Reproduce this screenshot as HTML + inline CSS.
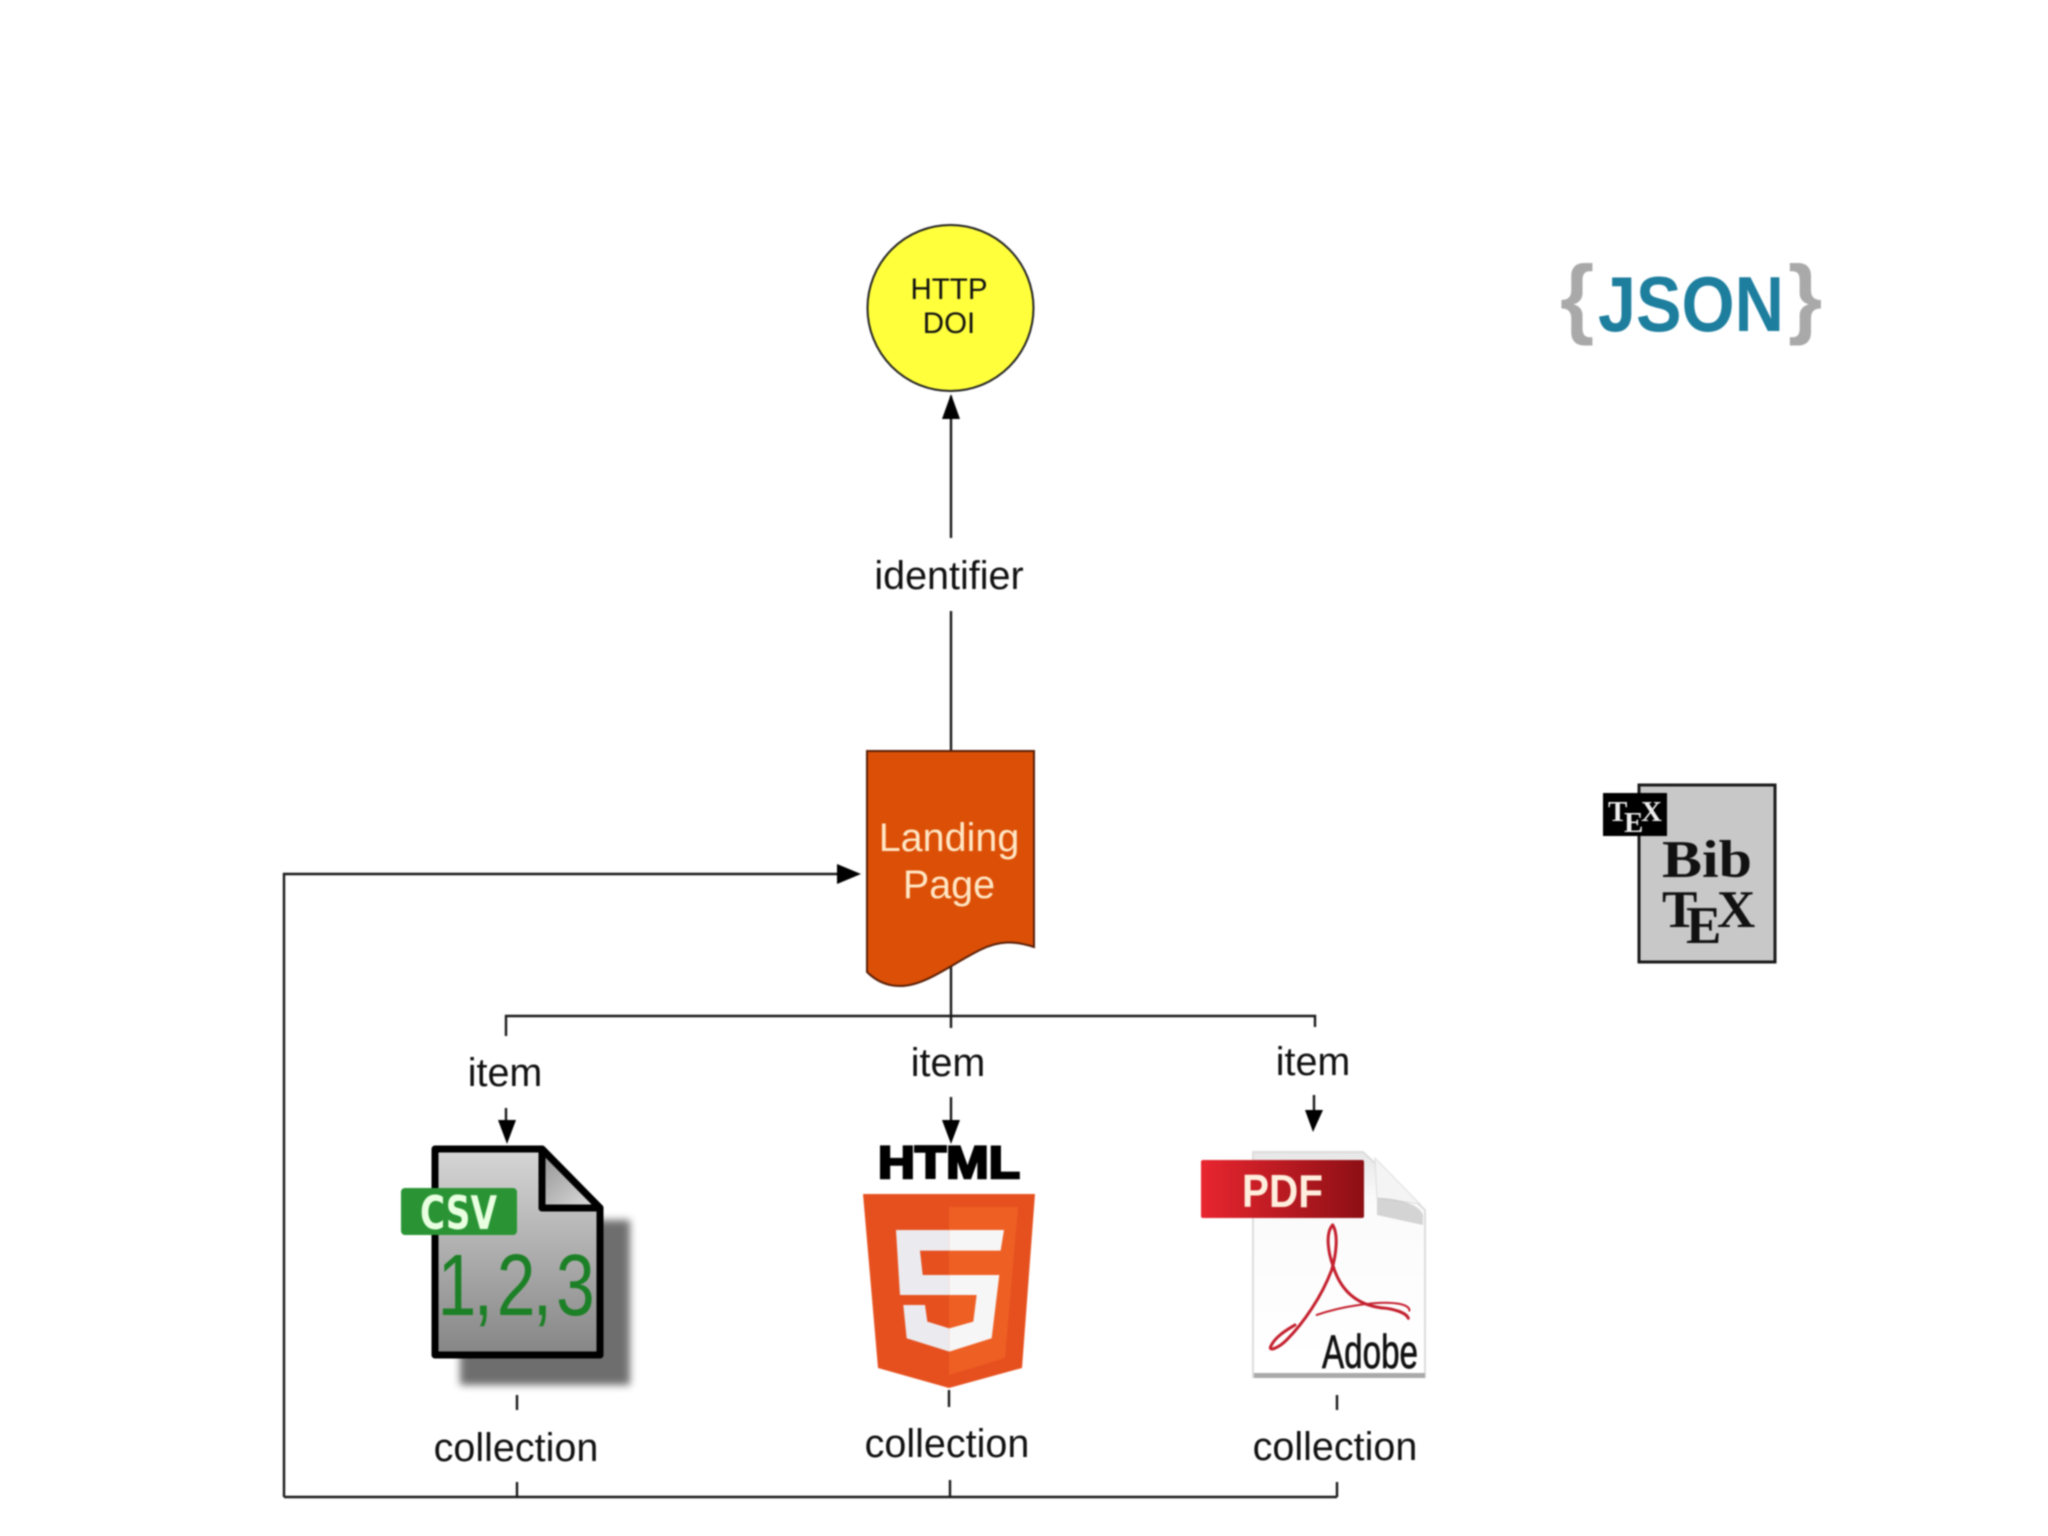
<!DOCTYPE html>
<html><head><meta charset="utf-8"><style>
html,body{margin:0;padding:0;background:#fff;width:2048px;height:1536px;overflow:hidden}
svg{display:block;filter:blur(.9px)}
text{font-family:"Liberation Sans",sans-serif}
.l{font-size:39.5px;fill:#111;text-anchor:middle}
.s{font-family:"Liberation Serif",serif;font-weight:bold}
</style></head><body>
<svg width="2048" height="1536" viewBox="0 0 2048 1536" xmlns="http://www.w3.org/2000/svg">
<defs>
<linearGradient id="cg" x1="0" y1="0" x2="0" y2="1"><stop offset="0" stop-color="#d6d6d6"/><stop offset="1" stop-color="#858585"/></linearGradient>
<linearGradient id="fg" x1="0" y1="0" x2="1" y2="1"><stop offset="0" stop-color="#8f8f8f"/><stop offset="1" stop-color="#e2e2e2"/></linearGradient>
<linearGradient id="pg" x1="0" y1="0" x2="1" y2="0"><stop offset="0" stop-color="#e8252f"/><stop offset="1" stop-color="#8c0f14"/></linearGradient>
<linearGradient id="dg" x1="0" y1="0" x2="0" y2="1"><stop offset="0" stop-color="#e6e6e6"/><stop offset=".2" stop-color="#fafafa"/><stop offset="1" stop-color="#fff"/></linearGradient>
<filter id="b6"><feGaussianBlur stdDeviation="4"/></filter>
</defs>
<rect width="2048" height="1536" fill="#fff"/>

<!-- connectors -->
<g stroke="#1a1a1a" stroke-width="2.4" fill="none">
<path d="M951 396V538M951 611V752"/>
<path d="M284 1497V874H845"/>
<path d="M284 1497H1337"/>
<path d="M506 1036V1016H1315V1027"/>
<path d="M951 960V1028"/>
<path d="M506 1108V1130M951 1097V1130M1314 1095V1118"/>
<path d="M517 1395V1410M949 1390V1407M1337 1395V1410"/>
<path d="M517 1482V1497M950 1480V1497M1337 1482V1497"/>
</g>
<g fill="#000">
<path d="M951 394L942 419H960Z"/>
<path d="M861 874L837 864V884Z"/>
<path d="M507 1144L498 1120H516Z"/>
<path d="M951 1144L942 1120H960Z"/>
<path d="M1313 1132L1305 1110H1323Z"/>
</g>

<!-- circle -->
<circle cx="950.5" cy="308" r="83" fill="#ffff3c" stroke="#222" stroke-width="2"/>
<text x="949" y="299" font-size="29.5" fill="#111" text-anchor="middle">HTTP</text>
<text x="949" y="333" font-size="29.5" fill="#111" text-anchor="middle">DOI</text>

<text class="l" x="949" y="589">identifier</text>

<!-- Landing page -->
<path d="M867 751H1034V947C1015 941 1000 940 980 950C950 965 925 986 900 986C885 986 875 980 867 972Z" fill="#dc4f06" stroke="#5a2008" stroke-width="2"/>
<text x="949" y="851" font-size="39.5" fill="#ffe6c4" text-anchor="middle">Landing</text>
<text x="949" y="898" font-size="39.5" fill="#ffe6c4" text-anchor="middle">Page</text>

<!-- item labels -->
<text class="l" x="505" y="1086">item</text>
<text class="l" x="948" y="1076">item</text>
<text class="l" x="1313" y="1075">item</text>

<!-- CSV -->
<path d="M460 1220H630V1385H460Z" fill="#555" filter="url(#b6)" opacity=".85"/>
<path d="M435 1149H542L600 1208V1355H435Z" fill="url(#cg)" stroke="#000" stroke-width="7" stroke-linejoin="round"/>
<path d="M542 1149V1208H600Z" fill="url(#fg)" stroke="#000" stroke-width="7" stroke-linejoin="round"/>
<rect x="401" y="1188" width="116" height="47" rx="4" fill="#2a9435"/>
<text x="420" y="1229" font-size="46" font-weight="bold" fill="#e8ffe0" textLength="77" lengthAdjust="spacingAndGlyphs" style="font-family:'DejaVu Sans',sans-serif">CSV</text>
<text transform="translate(0 1315) scale(.8 1)" x="547 592 621 666 695" y="0" font-size="87" fill="#1c8026">1,2,3</text>

<!-- HTML5 -->
<text x="878" y="1178" font-size="45" font-weight="bold" fill="#000" stroke="#000" stroke-width="2.5" textLength="142" lengthAdjust="spacingAndGlyphs">HTML</text>
<path d="M863 1194H1035L1022 1368L949 1388L878 1368Z" fill="#e6501f"/>
<path d="M949 1207H1018L1005 1358L949 1375Z" fill="#ee5f24"/>
<g transform="translate(840 1120) scale(.3333)">
<path d="M168 330H328V392H240L248 465H328V525H180ZM190 555H255L262 605L328 625V695L200 655Z" fill="#ebebef"/>
<path d="M328 330H492L482 392H328ZM328 465H478L455 655L328 695V625L400 605L410 525H328Z" fill="#f6f6f6"/>
</g>

<!-- PDF -->
<path d="M1253 1152H1363L1425 1210V1377H1253Z" fill="url(#dg)" stroke="#dcdcdc" stroke-width="2"/>
<path d="M1375 1158L1377 1198L1420 1204Z" fill="#f4f4f4" stroke="#ddd" stroke-width="1"/>
<path d="M1377 1198C1400 1198 1420 1205 1423 1215L1423 1225L1377 1215Z" fill="#bbb" opacity=".6"/>
<path d="M1254 1373H1425V1378H1254Z" fill="#aaa"/>
<rect x="1201" y="1160" width="163" height="58" rx="2" fill="url(#pg)"/>
<text x="1242" y="1207" font-size="46" font-weight="bold" fill="#ffeedd" textLength="81" lengthAdjust="spacingAndGlyphs">PDF</text>
<g transform="translate(1180 1120) scale(.3333)" fill="none" stroke="#c4202e" stroke-linecap="round">
<path d="M458 315C435 340 445 400 460 440C485 520 540 560 620 565C650 570 680 580 685 595" stroke-width="9"/>
<path d="M458 315C475 340 470 400 455 450C425 530 370 610 320 660C295 685 265 695 272 680C285 650 320 630 345 615" stroke-width="9"/>
<path d="M410 585C480 560 600 540 660 552C680 556 690 565 688 572" stroke-width="6"/>
</g>
<text x="1322" y="1368" font-size="47" fill="#111" stroke="#111" stroke-width=".7" textLength="96" lengthAdjust="spacingAndGlyphs">Adobe</text>

<!-- collection labels -->
<text class="l" x="516" y="1461">collection</text>
<text class="l" x="947" y="1457">collection</text>
<text class="l" x="1335" y="1460">collection</text>

<!-- JSON -->
<text x="1560" y="327" font-size="88" font-weight="bold" fill="#a9a9a9">{</text>
<text x="1598" y="331" font-size="78" font-weight="bold" fill="#1d7e9e" textLength="186" lengthAdjust="spacingAndGlyphs">JSON</text>
<text x="1788" y="327" font-size="88" font-weight="bold" fill="#a9a9a9">}</text>

<!-- BibTeX -->
<rect x="1639" y="785" width="136" height="177" fill="#c8c8c8" stroke="#1a1a1a" stroke-width="3"/>
<rect x="1603" y="793" width="64" height="43" fill="#000"/>
<text class="s" x="1608" y="821" font-size="29" fill="#eee">T</text>
<text class="s" x="1624" y="832" font-size="29" fill="#eee">E</text>
<text class="s" x="1641" y="821" font-size="29" fill="#eee">X</text>
<text class="s" x="1662" y="877" font-size="53" fill="#111" textLength="90" lengthAdjust="spacingAndGlyphs">Bib</text>
<text class="s" x="1662" y="927" font-size="53" fill="#111">T</text>
<text class="s" x="1686" y="943" font-size="53" fill="#111">E</text>
<text class="s" x="1717" y="927" font-size="53" fill="#111">X</text>
</svg>
</body></html>
